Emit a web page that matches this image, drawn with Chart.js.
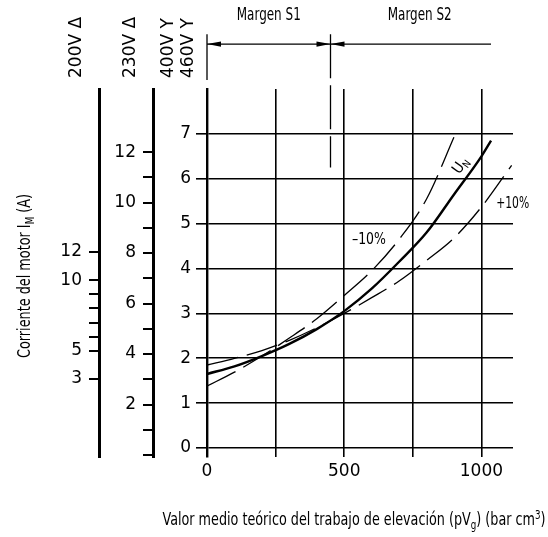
<!DOCTYPE html>
<html>
<head>
<meta charset="utf-8">
<script src="https://cdn.jsdelivr.net/npm/chart.js@4.4.1/dist/chart.umd.min.js"></script>
<style>
html, body { margin: 0; padding: 0; background: #fff; }
#marco { position: relative; width: 548px; height: 537px; }
</style>
</head>
<body>
<div id="marco"><canvas id="grafico" width="548" height="537"></canvas></div>
<script>
// valores

const ticksX = [0, 250, 500, 750, 1000];
const etiquetasX = [0, 500, 1000];
const ticksY = [0, 1, 2, 3, 4, 5, 6, 7];
const ticks230 = [0, 1, 2, 3, 4, 5, 6, 7, 8, 9, 10, 11, 12];
const etiquetas230 = [2, 4, 6, 8, 10, 12];
const ticks200 = [3, 5, 6, 7, 8, 9, 10, 12];
const etiquetas200 = [3, 5, 10, 12];

// curva U_N
const trabajoUN = [0, 100, 200, 300, 400, 500, 600, 700, 800, 900, 1000, 1035];
const corrienteUN = [1.65, 1.82, 2.05, 2.32, 2.65, 3.05, 3.55, 4.15, 4.8, 5.65, 6.5, 6.85];

// curva -10%
const trabajoMenos = [0, 100, 200, 300, 400, 500, 600, 700, 800, 905];
const corrienteMenos = [1.38, 1.69, 2.05, 2.45, 2.88, 3.4, 3.95, 4.65, 5.55, 7.0];

// curva +10%
const trabajoMas = [0, 100, 200, 300, 400, 500, 600, 700, 800, 900, 1000, 1110];
const corrienteMas = [1.85, 2.0, 2.17, 2.4, 2.68, 3.0, 3.35, 3.72, 4.18, 4.68, 5.37, 6.3];

// margenes S1 / S2 (limites y centro del texto en pV_g)
const margenLimites = [0, 450, 1035];
const margenCentros = [225, 775];
const margenTextos = ['Margen S1', 'Margen S2'];

const tensiones = ['200V \u0394', '230V \u0394', '400V Y', '460V Y'];

const fuenteNum = '"DejaVu Sans", sans-serif';
const fuenteEstrecha = '"Liberation Sans Narrow", "DejaVu Sans Condensed", sans-serif';

function puntos(xs, ys) {
    return xs.map((v, i) => ({ x: v, y: ys[i] }));
}

// texto con subindices / superindices, centrado en (x, y), comprimido a un ancho dado
function textoRico(ctx, partes, x, y, tam, familia, anchoObjetivo) {
    let ancho = 0;
    partes.forEach(p => {
        ctx.font = (p[1] ? tam * 0.68 : tam) + 'px ' + familia;
        ancho += ctx.measureText(p[0]).width;
    });
    const esc = anchoObjetivo ? anchoObjetivo / ancho : 1;
    ctx.save();
    ctx.translate(x, y);
    ctx.scale(esc, 1);
    let cx = -ancho / 2;
    ctx.textAlign = 'left';
    ctx.textBaseline = 'middle';
    partes.forEach(p => {
        const t = p[1] ? tam * 0.68 : tam;
        ctx.font = t + 'px ' + familia;
        ctx.fillText(p[0], cx, p[1] * tam * 0.3);
        cx += ctx.measureText(p[0]).width;
    });
    ctx.restore();
}

function flecha(ctx, xPunta, y, dir) {
    ctx.beginPath();
    ctx.moveTo(xPunta, y);
    ctx.lineTo(xPunta + dir * 14, y - 2.6);
    ctx.lineTo(xPunta + dir * 14, y + 2.6);
    ctx.closePath();
    ctx.fill();
}

const anotaciones = {
    id: 'anotaciones',
    afterDraw(chart) {
        const ctx = chart.ctx;
        const sx = chart.scales.x;
        const sy = chart.scales.y;
        const area = chart.chartArea;
        ctx.save();
        ctx.fillStyle = '#000';
        ctx.strokeStyle = '#000';

        // titulo eje Y
        ctx.save();
        ctx.translate(chart.scales.y200.left + 26, (area.top + area.bottom) / 2 + 3);
        ctx.rotate(-Math.PI / 2);
        textoRico(ctx, [['Corriente del motor I', 0], ['M', 1], [' (A)', 0]], 0, 0, 17, fuenteEstrecha, 164);
        ctx.restore();

        // titulo eje X
        textoRico(ctx, [['Valor medio te\u00f3rico del trabajo de elevaci\u00f3n (pV', 0], ['g', 1],
            [') (bar cm', 0], ['3', -1], [')', 0]], (area.left + area.right) / 2 - 6, 521, 17, fuenteEstrecha, 383);

        // tensiones (rotadas)
        const xsTension = [chart.scales.y200.right - 22, chart.scales.y230.right - 22,
            sy.right - 38, sy.right - 18];
        ctx.font = '17px ' + fuenteNum;
        ctx.textAlign = 'left';
        ctx.textBaseline = 'middle';
        tensiones.forEach((t, i) => {
            ctx.save();
            ctx.translate(xsTension[i], 78);
            ctx.rotate(-Math.PI / 2);
            ctx.fillText(t, 0, 0);
            ctx.restore();
        });

        // margenes
        const yFlecha = sy.getPixelForValue(9.0);
        const x0 = sx.getPixelForValue(margenLimites[0]);
        const x1 = sx.getPixelForValue(margenLimites[1]);
        const x2 = sx.getPixelForValue(margenLimites[2]);
        ctx.lineWidth = 1.3;
        ctx.beginPath();
        ctx.moveTo(x0, yFlecha);
        ctx.lineTo(x2, yFlecha);
        ctx.moveTo(x0, sy.getPixelForValue(9.22));
        ctx.lineTo(x0, sy.getPixelForValue(8.2));
        ctx.stroke();
        flecha(ctx, x0, yFlecha, 1);
        flecha(ctx, x1, yFlecha, -1);
        flecha(ctx, x1, yFlecha, 1);
        ctx.setLineDash([44, 7]);
        ctx.beginPath();
        ctx.moveTo(x1, sy.getPixelForValue(9.22));
        ctx.lineTo(x1, sy.getPixelForValue(6.25));
        ctx.stroke();
        ctx.setLineDash([]);

        const yMargen = sy.getPixelForValue(9.64);
        margenTextos.forEach((t, i) => {
            textoRico(ctx, [[t, 0]], sx.getPixelForValue(margenCentros[i]), yMargen, 18, fuenteEstrecha, 64);
        });

        // etiquetas de curvas
        textoRico(ctx, [['\u201310%', 0]], sx.getPixelForValue(590), sy.getPixelForValue(4.64), 16, fuenteEstrecha, 34);
        textoRico(ctx, [['+10%', 0]], sx.getPixelForValue(1114), sy.getPixelForValue(5.45), 16, fuenteEstrecha, 33);
        ctx.save();
        ctx.translate(sx.getPixelForValue(925), sy.getPixelForValue(6.29));
        ctx.rotate(-0.95);
        textoRico(ctx, [['U', 0], ['N', 1]], 0, 0, 15, fuenteEstrecha);
        ctx.restore();

        ctx.restore();
    }
};

function ticksFijos(lista) {
    return function (scale) {
        scale.ticks = lista.map(v => ({ value: v }));
    };
}

const lineaEscala = {
    color: '#000',
    lineWidth: 2,
    drawOnChartArea: false,
    drawTicks: true,
    tickLength: 10
};

new Chart(document.getElementById('grafico'), {
    type: 'scatter',
    data: {
        datasets: [
            {
                label: 'U_N',
                data: puntos(trabajoUN, corrienteUN),
                showLine: true,
                borderColor: '#000',
                borderWidth: 2.4,
                pointRadius: 0,
                cubicInterpolationMode: 'monotone',
                yAxisID: 'y'
            },
            {
                label: '-10%',
                data: puntos(trabajoMenos, corrienteMenos),
                showLine: true,
                borderColor: '#000',
                borderWidth: 1.3,
                borderDash: [32, 9],
                pointRadius: 0,
                cubicInterpolationMode: 'monotone',
                yAxisID: 'y'
            },
            {
                label: '+10%',
                data: puntos(trabajoMas, corrienteMas),
                showLine: true,
                borderColor: '#000',
                borderWidth: 1.3,
                borderDash: [32, 9],
                pointRadius: 0,
                cubicInterpolationMode: 'monotone',
                yAxisID: 'y'
            }
        ]
    },
    options: {
        responsive: false,
        animation: false,
        devicePixelRatio: 1,
        layout: { padding: { top: 89, right: 35, left: 0, bottom: 0 } },
        plugins: { legend: { display: false }, tooltip: { enabled: false } },
        scales: {
            x: {
                type: 'linear',
                min: 0,
                max: 1115,
                afterBuildTicks: ticksFijos(ticksX),
                afterFit: s => { s.height = 80; },
                border: { display: false },
                grid: { color: '#000', lineWidth: 1.6, drawTicks: false },
                ticks: {
                    color: '#000',
                    padding: 4,
                    maxRotation: 0,
                    font: { family: fuenteNum, size: 17 },
                    callback: v => etiquetasX.includes(v) ? String(v) : ''
                }
            },
            y: {
                type: 'linear',
                position: 'left',
                weight: 0,
                min: -0.2,
                max: 8,
                afterBuildTicks: ticksFijos(ticksY),
                afterFit: s => { s.width = 54; },
                border: { display: true, color: '#000', width: 2.4 },
                grid: { color: '#000', lineWidth: 1.6, drawTicks: true, tickLength: 11 },
                ticks: {
                    color: '#000',
                    padding: 5,
                    font: { family: fuenteNum, size: 17 }
                }
            },
            y230: {
                type: 'linear',
                position: 'left',
                weight: 1,
                min: -0.079,
                max: 14.5,
                afterBuildTicks: ticksFijos(ticks230),
                afterFit: s => { s.width = 54; },
                border: { display: true, color: '#000', width: 3 },
                grid: lineaEscala,
                ticks: {
                    color: '#000',
                    padding: 7,
                    font: { family: fuenteNum, size: 17 },
                    callback: v => etiquetas230.includes(v) ? String(v) : ''
                }
            },
            y200: {
                type: 'linear',
                position: 'left',
                weight: 2,
                min: -2.53,
                max: 23.55,
                afterBuildTicks: ticksFijos(ticks200),
                afterFit: s => { s.width = 99; },
                border: { display: true, color: '#000', width: 3 },
                grid: lineaEscala,
                ticks: {
                    color: '#000',
                    padding: 7,
                    font: { family: fuenteNum, size: 17 },
                    callback: v => etiquetas200.includes(v) ? String(v) : ''
                }
            }
        }
    },
    plugins: [anotaciones]
});
</script>
</body>
</html>
